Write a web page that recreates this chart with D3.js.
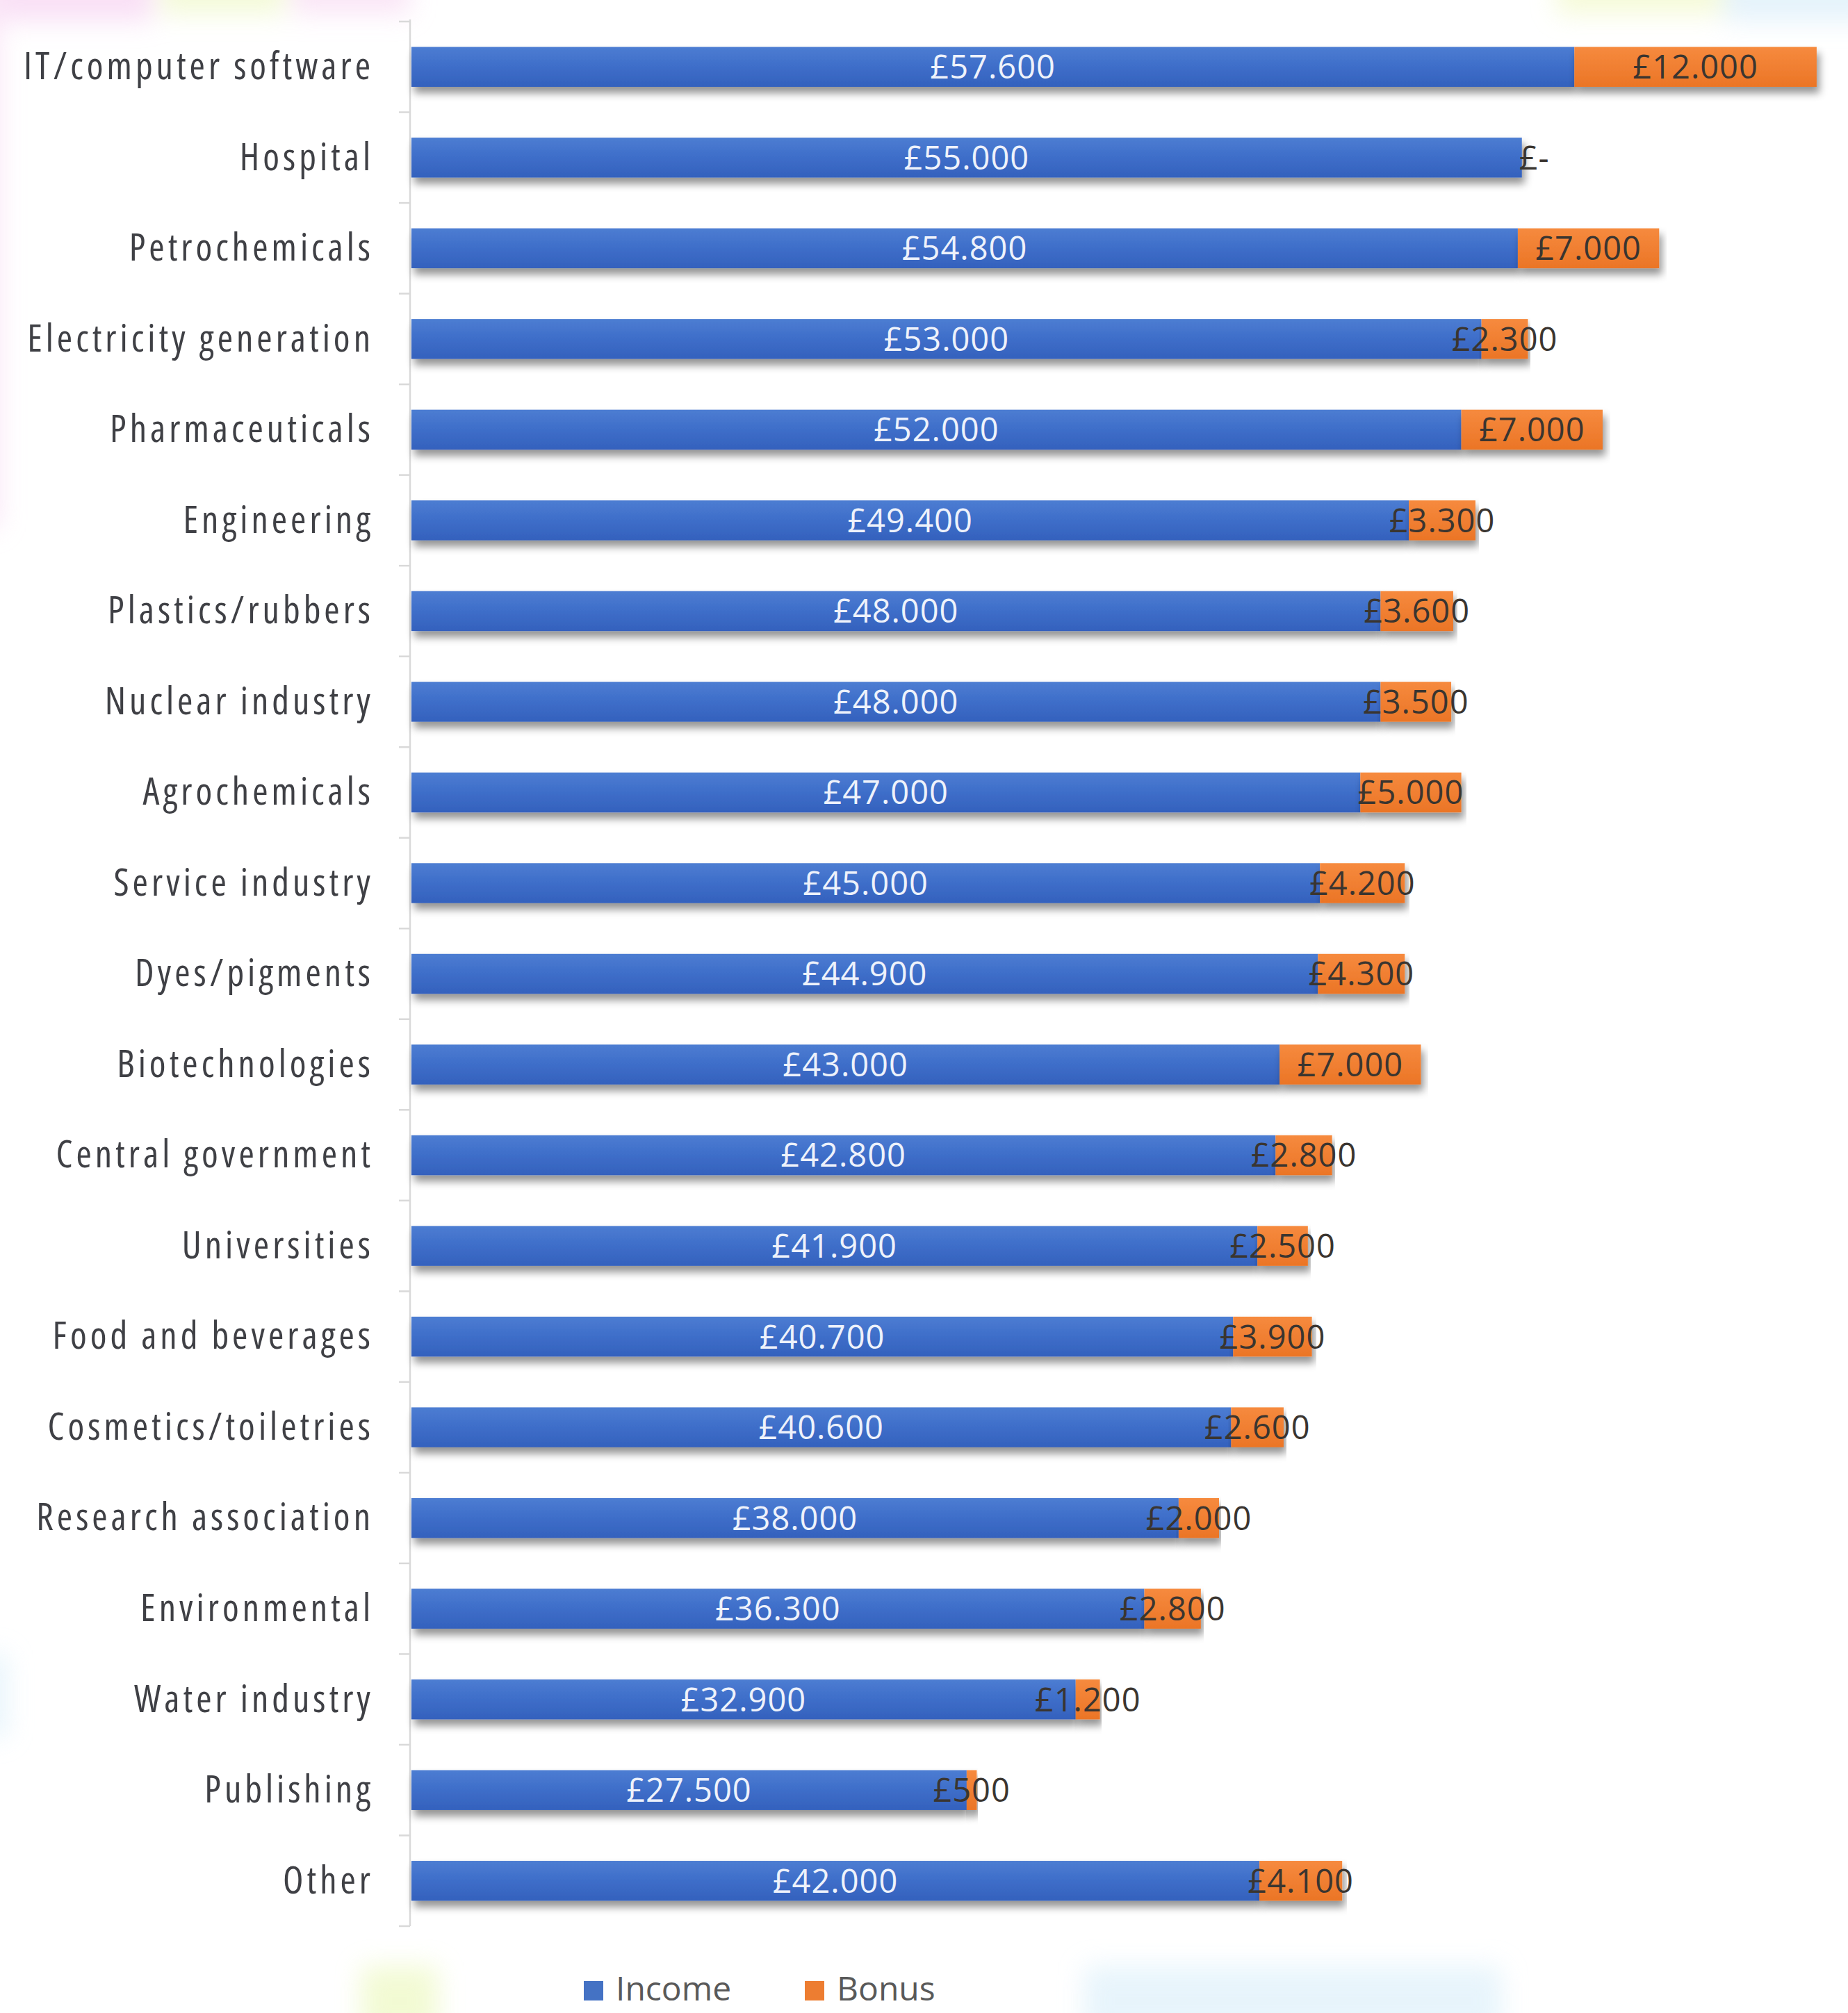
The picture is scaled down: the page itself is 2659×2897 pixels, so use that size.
<!DOCTYPE html>
<html>
<head>
<meta charset="utf-8">
<script src="https://cdn.jsdelivr.net/npm/d3@7"></script>
<style>
  html, body { margin: 0; padding: 0; background: #fff; }
  svg { display: block; }
</style>
</head>
<body>
<div id="chart"></div>
<script>
const categories = [
  "IT/computer software", "Hospital", "Petrochemicals", "Electricity generation",
  "Pharmaceuticals", "Engineering", "Plastics/rubbers", "Nuclear industry",
  "Agrochemicals", "Service industry", "Dyes/pigments", "Biotechnologies",
  "Central government", "Universities", "Food and beverages", "Cosmetics/toiletries",
  "Research association", "Environmental", "Water industry", "Publishing", "Other"
];
const income = [57600, 55000, 54800, 53000, 52000, 49400, 48000, 48000, 47000, 45000,
  44900, 43000, 42800, 41900, 40700, 40600, 38000, 36300, 32900, 27500, 42000];
const bonus = [12000, 0, 7000, 2300, 7000, 3300, 3600, 3500, 5000, 4200,
  4300, 7000, 2800, 2500, 3900, 2600, 2000, 2800, 1200, 500, 4100];
const seriesNames = ["Income", "Bonus"];

function chart() {
    const width = 2659;
    const height = 2897;
    const left = 592;
    const pxPerPound = 0.02905;

    const loc = d3.formatLocale({ decimal: ",", thousands: ".", grouping: [3], currency: ["£", ""] });
    const fmt = v => v === 0 ? "£-" : "£" + loc.format(",")(v);

    const svg = d3.select('#chart')
        .append('svg')
        .attr('width', width)
        .attr('height', height);

    const defs = svg.append('defs');
    const sh = defs.append('filter').attr('id', 'shadow')
        .attr('x', '-5%').attr('y', '-40%').attr('width', '110%').attr('height', '200%');
    sh.append('feDropShadow')
        .attr('dx', 4).attr('dy', 9).attr('stdDeviation', 6)
        .attr('flood-color', '#000').attr('flood-opacity', 0.42);

    const blur = defs.append('filter').attr('id', 'soft')
        .attr('x', '-50%').attr('y', '-50%').attr('width', '200%').attr('height', '200%');
    blur.append('feGaussianBlur').attr('stdDeviation', 18);

    const gBlue = defs.append('linearGradient').attr('id', 'gBlue')
        .attr('x1', 0).attr('y1', 0).attr('x2', 0).attr('y2', 1);
    gBlue.append('stop').attr('offset', '0%').attr('stop-color', '#4d7dd2');
    gBlue.append('stop').attr('offset', '45%').attr('stop-color', '#3f6fca');
    gBlue.append('stop').attr('offset', '100%').attr('stop-color', '#3461bd');
    const gOr = defs.append('linearGradient').attr('id', 'gOr')
        .attr('x1', 0).attr('y1', 0).attr('x2', 0).attr('y2', 1);
    gOr.append('stop').attr('offset', '0%').attr('stop-color', '#f68a3e');
    gOr.append('stop').attr('offset', '100%').attr('stop-color', '#eb7526');

    // soft background blobs from the slide behind the chart
    const deco = svg.append('g').attr('filter', 'url(#soft)').attr('opacity', 0.55);
    deco.append('rect').attr('x', -40).attr('y', -40).attr('width', 260).attr('height', 70).attr('fill', '#f4c6ee');
    deco.append('rect').attr('x', -40).attr('y', -40).attr('width', 40).attr('height', 800).attr('fill', '#f7d3f1');
    deco.append('rect').attr('x', 230).attr('y', -40).attr('width', 180).attr('height', 60).attr('fill', '#eaf6b8');
    deco.append('rect').attr('x', 420).attr('y', -40).attr('width', 170).attr('height', 60).attr('fill', '#f6d0ef');
    deco.append('rect').attr('x', 2240).attr('y', -40).attr('width', 240).attr('height', 60).attr('fill', '#eef7b8');
    deco.append('rect').attr('x', 2480).attr('y', -40).attr('width', 220).attr('height', 70).attr('fill', '#cfe8f8');
    deco.append('rect').attr('x', 520).attr('y', 2830).attr('width', 110).attr('height', 100).attr('fill', '#e8f7b0');
    deco.append('rect').attr('x', 1560).attr('y', 2830).attr('width', 600).attr('height', 100).attr('fill', '#d4ecf9');
    deco.append('rect').attr('x', -30).attr('y', 2380).attr('width', 40).attr('height', 120).attr('fill', '#d4ecf9');

    const x = d3.scaleLinear()
        .domain([0, 70000])
        .range([left, left + 70000 * pxPerPound]);

    const y = d3.scaleBand()
        .domain(categories)
        .range([31, 2772])
        .paddingInner(0.56)
        .paddingOuter(0.28);

    const rows = categories.map((c, i) => ({ cat: c, income: income[i], bonus: bonus[i] }));

    // category axis
    const axis = d3.axisLeft(y).tickSize(0).tickPadding(52);
    const ax = svg.append('g')
        .attr('transform', `translate(${left - 2},0)`)
        .call(axis);
    ax.select('.domain').attr('stroke', '#d9d9d9').attr('stroke-width', 2.5)
        .attr('d', `M0,${y.range()[0] - 3}V${y.range()[1]}`);
    ax.selectAll('.tick text')
        .attr('fill', '#3f4045')
        .style('font-family', '"Open Sans", sans-serif')
        .style('font-stretch', '75%')
        .style('font-size', '54px')
        .style('letter-spacing', '5px')
        .attr('dy', '0.33em');
    // boundary tick marks between categories
    const step = y.step();
    const bounds = d3.range(categories.length + 1).map(i => y.range()[0] + i * step);
    svg.append('g').selectAll('line')
        .data(bounds)
        .enter()
        .append('line')
        .attr('x1', left - 18).attr('x2', left - 2)
        .attr('y1', d => d).attr('y2', d => d)
        .attr('stroke', '#d9d9d9').attr('stroke-width', 2.5);

    // bars
    const bars = svg.append('g');
    bars.selectAll('rect.inc')
        .data(rows)
        .enter()
        .append('rect')
        .attr('class', 'inc')
        .attr('x', x(0))
        .attr('y', d => y(d.cat))
        .attr('width', d => x(d.income) - x(0))
        .attr('height', y.bandwidth())
        .attr('fill', 'url(#gBlue)')
        .attr('filter', 'url(#shadow)');
    bars.selectAll('rect.bon')
        .data(rows.filter(d => d.bonus > 0))
        .enter()
        .append('rect')
        .attr('class', 'bon')
        .attr('x', d => x(d.income))
        .attr('y', d => y(d.cat))
        .attr('width', d => x(d.income + d.bonus) - x(d.income))
        .attr('height', y.bandwidth())
        .attr('fill', 'url(#gOr)')
        .attr('filter', 'url(#shadow)');

    // labels
    const lab = svg.append('g')
        .style('font-family', '"Open Sans", sans-serif')
        .style('font-size', '47px')
        .style('letter-spacing', '1px')
        .attr('text-anchor', 'middle');
    lab.selectAll('text.inc')
        .data(rows)
        .enter()
        .append('text')
        .attr('x', d => x(d.income / 2))
        .attr('y', d => y(d.cat) + y.bandwidth() / 2)
        .attr('dy', '0.36em')
        .attr('fill', '#eef2fb')
        .text(d => fmt(d.income));
    lab.selectAll('text.bon')
        .data(rows)
        .enter()
        .append('text')
        .attr('x', d => x(d.income + d.bonus / 2) + (d.bonus === 0 ? 18 : 0))
        .attr('y', d => y(d.cat) + y.bandwidth() / 2)
        .attr('dy', '0.36em')
        .attr('fill', '#3a3530')
        .text(d => fmt(d.bonus));

    // legend
    const legendX = [840, 1158];
    const colors = ['#4472c4', '#ed7d31'];
    const leg = svg.append('g');
    const li = leg.selectAll('g')
        .data(seriesNames)
        .enter()
        .append('g')
        .attr('transform', (d, i) => `translate(${legendX[i]},2851)`);
    li.append('rect').attr('width', 28).attr('height', 28).attr('fill', (d, i) => colors[i]);
    li.append('text')
        .attr('x', 46).attr('y', 28)
        .attr('fill', '#595959')
        .style('font-family', '"Open Sans", sans-serif')
        .style('font-size', '48px')
        .text(d => d);
}

chart();
</script>
</body>
</html>
